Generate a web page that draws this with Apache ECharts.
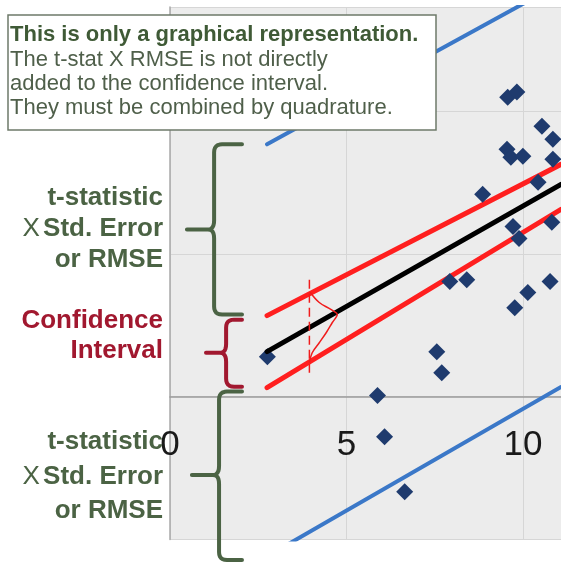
<!DOCTYPE html>
<html>
<head>
<meta charset="utf-8">
<script src="https://cdn.jsdelivr.net/npm/echarts@6/dist/echarts.min.js"></script>
<style>
  html, body { margin: 0; padding: 0; background: #ffffff; }
  #chart { width: 561px; height: 563px; }
</style>
</head>
<body>
<div id="chart"></div>
<script>
// Observations (x, y)
const observations = [
  [2.76, 1.40], [7.56, 1.58], [7.70, 0.84], [5.88, 0.04], [6.08, -1.40],
  [6.65, -3.33], [7.93, 4.04], [8.41, 4.10], [8.86, 7.09], [9.72, 5.96],
  [9.89, 5.54], [9.57, 10.49], [9.83, 10.67], [10.54, 9.47], [10.85, 9.02],
  [9.55, 8.67], [9.66, 8.39], [10.00, 8.42], [10.85, 8.32], [10.43, 7.51],
  [10.82, 6.11], [10.77, 4.04], [10.14, 3.65], [9.77, 3.12]
];

// Fitted line, confidence band and prediction band (end points)
const fitLine   = [[2.75, 1.58], [11.08, 7.44]];
const confUpper = [[2.75, 2.84], [11.08, 8.14]];
const confLower = [[2.75, 0.32], [11.08, 6.56]];
const predUpper = [[2.75, 8.84], [11.08, 14.49]];
const predLower = [[2.75, -5.59], [11.08, 0.34]];

// Sketched error distribution around the fit and its reference marker
const errorCurve = [
  [3.97, 3.66], [4.23, 3.30], [4.57, 3.05], [4.74, 2.88], [4.60, 2.60],
  [4.43, 2.25], [4.23, 1.89], [4.03, 1.54], [3.95, 1.19]
];
const errorMarker = [[3.95, 4.10], [3.95, 0.77]];

// Braces: [spine x, tip x, nub x, top y, middle y, bottom y, colour index]
const braces = [
  [1.25, 2.04, 0.48, 8.84, 5.86, 2.88, 0],
  [1.59, 2.04, 1.02, 2.70, 1.54, 0.35, 1],
  [1.39, 2.04, 0.62, 0.18, -2.74, -5.72, 0]
];

const xTicks = [0, 5, 10];

const GREEN = '#4b6344';
const CRIMSON = '#a1182f';
const FONT = '"Liberation Sans", Arial, Helvetica, sans-serif';

function quad(pts, a, c, b) {
  for (let i = 1; i <= 6; i++) {
    const t = i / 6, u = 1 - t;
    pts.push([u * u * a[0] + 2 * u * t * c[0] + t * t * b[0],
              u * u * a[1] + 2 * u * t * c[1] + t * t * b[1]]);
  }
}

function renderBrace(params, api) {
  const pT = api.coord([api.value(0), api.value(3)]);
  const pM = api.coord([api.value(0), api.value(4)]);
  const pB = api.coord([api.value(0), api.value(5)]);
  const tipX = api.coord([api.value(1), api.value(3)])[0];
  const nubX = api.coord([api.value(2), api.value(4)])[0];
  const xv = pT[0], yT = pT[1], yM = pM[1], yB = pB[1];
  const r = 8, rn = 9, k = 6;
  const pts = [[tipX, yT], [xv + r, yT]];
  quad(pts, [xv + r, yT], [xv, yT], [xv, yT + r]);
  pts.push([xv, yM - rn]);
  quad(pts, [xv, yM - rn], [xv, yM], [xv - k, yM]);
  pts.push([nubX, yM]);
  pts.push([xv - k, yM]);
  quad(pts, [xv - k, yM], [xv, yM], [xv, yM + rn]);
  pts.push([xv, yB - r]);
  quad(pts, [xv, yB - r], [xv, yB], [xv + r, yB]);
  pts.push([tipX, yB]);
  return {
    type: 'polyline',
    shape: { points: pts },
    style: {
      fill: null,
      stroke: api.value(6) === 1 ? CRIMSON : GREEN,
      lineWidth: 4,
      lineJoin: 'round',
      lineCap: 'round'
    }
  };
}

function straight(data, color, width, z) {
  return {
    type: 'line', data: data, showSymbol: false, symbol: 'none', z: z,
    lineStyle: { color: color, width: width, cap: 'round' },
    clip: true, silent: true
  };
}

const label = (text, y, color) => ({
  type: 'text', x: 163, y: y, z: 100,
  style: {
    text: text, x: 0, y: 0, align: 'right', verticalAlign: 'middle',
    font: 'bold 26px ' + FONT, fill: color
  }
});

const stdErrorLabel = y => ({
  type: 'text', x: 163, y: y, z: 100,
  style: {
    text: '{x|X} {b|Std. Error}', align: 'right', verticalAlign: 'middle',
    rich: {
      x: { font: '26px ' + FONT, fill: GREEN },
      b: { font: 'bold 26px ' + FONT, fill: GREEN }
    }
  }
});

const noteLine = (text, y, bold) => ({
  type: 'text', x: 10, y: y, z: 101,
  style: {
    text: text, align: 'left', verticalAlign: 'middle',
    font: (bold ? 'bold ' : '') + '22px ' + FONT, fill: bold ? '#3f5a36' : '#4f5f4a'
  }
});

const chart = echarts.init(document.getElementById('chart'), null, { renderer: 'canvas' });

chart.setOption({
  animation: false,
  backgroundColor: '#ffffff',
  grid: {
    left: 170, right: 0, top: 7, bottom: 23.5,
    containLabel: false, outerBoundsMode: 'none',
    show: true, backgroundColor: '#ececec', borderWidth: 0
  },
  xAxis: {
    type: 'value', min: 0, max: 11.08, interval: 5,
    axisLine: { onZero: true, lineStyle: { color: '#9a9a9a', width: 1.5 } },
    axisTick: { show: false },
    axisLabel: {
      margin: -112, fontSize: 35, color: '#1a1a1a', fontFamily: FONT,
      hideOverlap: false,
      formatter: v => (xTicks.indexOf(v) >= 0 ? String(v) : '')
    },
    splitLine: { show: true, lineStyle: { color: '#d6d6d6', width: 1 } }
  },
  yAxis: {
    type: 'value', min: -5, max: 13.65, interval: 5,
    axisLine: { show: true, onZero: false, lineStyle: { color: '#a8a8a8', width: 1.5 } },
    axisTick: { show: false },
    axisLabel: { show: false },
    splitLine: { show: true, lineStyle: { color: '#d6d6d6', width: 1 } }
  },
  series: [
    straight(predUpper, '#3b78c8', 4, 2),
    straight(predLower, '#3b78c8', 4, 2),
    straight(confUpper, '#ff1f1f', 5, 3),
    straight(confLower, '#ff1f1f', 5, 3),
    {
      type: 'scatter', data: observations, symbol: 'diamond', symbolSize: 17, z: 4,
      itemStyle: { color: '#1f3b6e', opacity: 1 }, silent: true
    },
    straight(fitLine, '#000000', 5, 5),
    {
      type: 'line', data: errorMarker, showSymbol: false, symbol: 'none', z: 6,
      lineStyle: { color: '#f01c1c', width: 1.5, type: [9, 5] }, silent: true
    },
    {
      type: 'line', data: errorCurve, showSymbol: false, symbol: 'none', z: 6,
      smooth: 0.35, lineStyle: { color: '#f01c1c', width: 1.5 }, silent: true
    },
    {
      type: 'custom', data: braces, renderItem: renderBrace, clip: false, z: 7,
      encode: { x: [0, 1, 2], y: [3, 4, 5] }, silent: true
    }
  ],
  graphic: { elements: [
    {
      type: 'rect', x: 8, y: 15, z: 100,
      shape: { x: 0, y: 0, width: 428, height: 115 },
      style: { fill: '#ffffff', stroke: '#6e7a69', lineWidth: 1.5 }
    },
    noteLine('This is only a graphical representation.', 34.5, true),
    noteLine('The t-stat X RMSE is not directly', 60, false),
    noteLine('added to the confidence interval.', 84, false),
    noteLine('They must be combined by quadrature.', 108, false),

    label('t-statistic', 198, GREEN),
    stdErrorLabel(229),
    label('or RMSE', 260, GREEN),

    label('Confidence', 321, CRIMSON),
    label('Interval', 351, CRIMSON),

    label('t-statistic', 442, GREEN),
    stdErrorLabel(477),
    label('or RMSE', 511, GREEN)
  ] }
});
</script>
</body>
</html>
